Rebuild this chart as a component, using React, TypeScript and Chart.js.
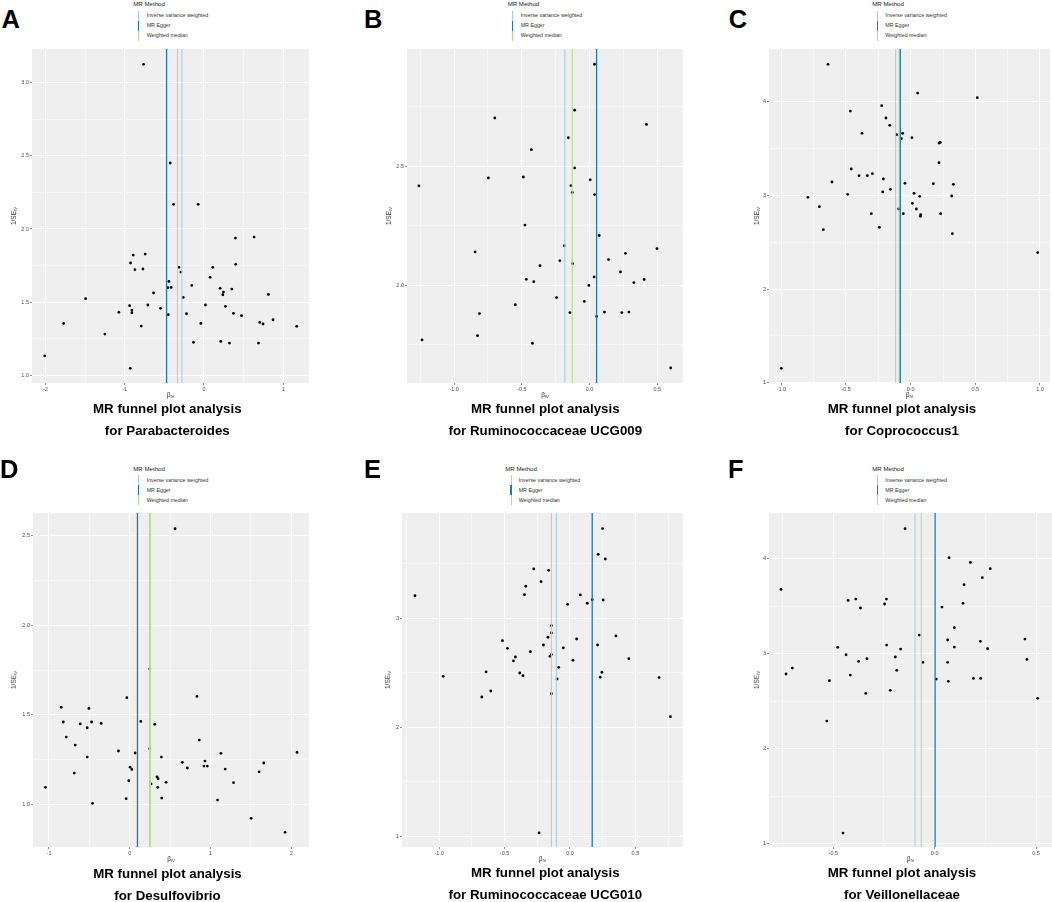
import React, { useEffect, useRef } from "react";
import { Chart, registerables } from "chart.js";

Chart.register(...registerables);

// ---------- legend ----------
const methodNames = ["Inverse variance weighted", "MR Egger", "Weighted median"];
const methodColors = ["#a6cee3", "#1f78b4", "#b2df8a"];

// ---------- Panel A: Parabacteroides ----------
const betaA = [-0.762, -0.426, -0.384, -0.074, 0.396, 0.631, 0.4, 0.111, -0.317, -0.292, 0.077, -0.443, -0.456, -0.414, -0.154, 0.203, 0.35, 0.245, 0.237, 0.812, -0.263, -0.636, -0.741, -0.892, -0.926, -0.871, -0.77, -1.492, -0.938, -0.708, -0.909, -0.909, -1.073, -0.548, -0.451, 0.018, -0.221, 0.27, 0.371, 0.472, -0.04, -0.791, -1.769, -1.249, 0.702, 0.744, 0.87, 1.168, -0.133, 0.211, 0.321, 0.686, -2.008, -0.93];
const seInvA = [3.125, 2.451, 2.169, 2.169, 1.938, 1.945, 1.759, 1.738, 1.738, 1.706, 1.67, 1.642, 1.599, 1.601, 1.615, 1.595, 1.59, 1.569, 1.551, 1.553, 1.533, 1.563, 1.829, 1.822, 1.768, 1.722, 1.727, 1.524, 1.476, 1.481, 1.446, 1.428, 1.431, 1.458, 1.415, 1.481, 1.421, 1.472, 1.424, 1.408, 1.355, 1.337, 1.355, 1.282, 1.362, 1.351, 1.38, 1.335, 1.226, 1.232, 1.221, 1.221, 1.134, 1.048];
const estA = [-0.279, -0.472, -0.334];
const xTicksA = [-2, -1, 0, 1];
const xLabelsA = ["-2", "-1", "0", "1"];
const xMinorA = [-1.5, -0.5, 0.5];
const yTicksA = [1.0, 1.5, 2.0, 2.5, 3.0];
const yLabelsA = ["1.0", "1.5", "2.0", "2.5", "3.0"];
const yMinorA = [1.25, 1.75, 2.25, 2.75];

// ---------- Panel B: Ruminococcaceae UCG009 ----------
const betaB = [0.037, -0.11, -0.7, 0.42, -0.157, -0.43, -0.11, -0.489, -0.747, 0.005, -1.26, -0.137, -0.128, 0.037, -0.477, 0.071, -0.187, 0.498, -0.845, 0.265, 0.14, -0.219, -0.125, -0.366, 0.228, 0.034, 0.403, -0.467, -0.412, 0.327, -0.005, -0.243, -0.039, -0.548, -0.813, -0.145, 0.11, 0.238, 0.29, 0.052, -0.827, -1.237, -0.422, 0.599];
const seInvB = [2.929, 2.736, 2.703, 2.676, 2.62, 2.57, 2.493, 2.455, 2.451, 2.443, 2.418, 2.419, 2.39, 2.381, 2.253, 2.209, 2.166, 2.154, 2.14, 2.134, 2.108, 2.103, 2.091, 2.082, 2.056, 2.035, 2.024, 2.025, 2.015, 2.011, 1.999, 1.948, 1.932, 1.918, 1.881, 1.885, 1.887, 1.885, 1.887, 1.869, 1.788, 1.77, 1.756, 1.652];
const estB = [-0.182, 0.052, -0.128];
const xTicksB = [-1.0, -0.5, 0.0, 0.5];
const xLabelsB = ["-1.0", "-0.5", "0.0", "0.5"];
const xMinorB = [-1.25, -0.75, -0.25, 0.25];
const yTicksB = [2.0, 2.5];
const yLabelsB = ["2.0", "2.5"];
const yMinorB = [1.75, 2.25, 2.75];

// ---------- Panel C: Coprococcus1 ----------
const betaC = [-0.639, 0.054, 0.515, -0.224, -0.466, -0.191, -0.162, -0.376, -0.108, -0.062, -0.072, 0.01, 0.229, 0.219, 0.219, -0.459, -0.399, -0.335, -0.296, -0.211, -0.608, -0.044, 0.175, 0.33, -0.157, -0.216, -0.487, 0.026, -0.794, 0.07, 0.317, 0.013, -0.706, -0.093, 0.044, -0.304, -0.057, 0.232, 0.077, 0.075, -0.242, -0.675, 0.322, 0.982, -1.0];
const seInvC = [4.397, 4.091, 4.042, 3.956, 3.899, 3.825, 3.747, 3.661, 3.647, 3.661, 3.604, 3.615, 3.565, 3.558, 3.348, 3.281, 3.21, 3.21, 3.231, 3.174, 3.142, 3.128, 3.124, 3.117, 3.064, 3.036, 3.011, 3.021, 2.979, 2.989, 2.993, 2.915, 2.879, 2.854, 2.854, 2.804, 2.804, 2.804, 2.794, 2.776, 2.659, 2.634, 2.591, 2.389, 1.155];
const estC = [-0.116, -0.08, -0.09];
const xTicksC = [-1.0, -0.5, 0.0, 0.5, 1.0];
const xLabelsC = ["-1.0", "-0.5", "0.0", "0.5", "1.0"];
const xMinorC = [-0.75, -0.25, 0.25, 0.75];
const yTicksC = [1, 2, 3, 4];
const yLabelsC = ["1", "2", "3", "4"];
const yMinorC = [1.5, 2.5, 3.5];

// ---------- Panel D: Desulfovibrio ----------
const betaD = [0.56, 0.247, 0.831, -0.037, -0.848, -0.506, 0.136, -0.823, -0.473, -0.613, -0.354, 0.309, -0.527, -0.786, 0.86, -0.675, 0.247, -0.14, 1.128, 2.07, 0.066, -0.527, 0.391, 0.65, 0.93, 1.658, 0.004, 0.918, 0.959, 0.025, 0.712, 1.181, -0.687, 1.601, 0.337, 0.35, -0.012, 0.449, 1.284, 0.263, -1.045, 0.346, -0.045, 0.395, 1.086, -0.461, 1.502, 1.922];
const seInvD = [2.539, 1.757, 1.603, 1.596, 1.542, 1.536, 1.463, 1.46, 1.46, 1.449, 1.452, 1.447, 1.428, 1.376, 1.359, 1.331, 1.311, 1.298, 1.285, 1.29, 1.287, 1.264, 1.264, 1.235, 1.242, 1.231, 1.208, 1.214, 1.214, 1.195, 1.203, 1.197, 1.175, 1.182, 1.154, 1.143, 1.132, 1.123, 1.121, 1.114, 1.095, 1.095, 1.032, 1.035, 1.024, 1.006, 0.922, 0.844];
const estD = [0.245, 0.095, 0.255];
const xTicksD = [-1, 0, 1, 2];
const xLabelsD = ["-1", "0", "1", "2"];
const xMinorD = [-0.5, 0.5, 1.5];
const yTicksD = [1.0, 1.5, 2.0, 2.5];
const yLabelsD = ["1.0", "1.5", "2.0", "2.5"];
const yMinorD = [1.25, 1.75, 2.25];

// ---------- Panel E: Ruminococcaceae UCG010 ----------
const betaE = [0.249, 0.216, 0.27, -0.277, -0.163, -0.221, -0.338, -1.185, -0.348, 0.079, 0.17, 0.254, -0.018, 0.132, -0.142, -0.142, -0.168, 0.351, 0.051, -0.516, -0.203, 0.211, -0.478, -0.051, -0.303, -0.142, -0.153, -0.417, -0.432, 0.023, 0.45, -0.086, -0.641, -0.384, 0.244, -0.969, -0.359, 0.231, 0.681, -0.099, -0.605, -0.142, -0.674, 0.768, -0.236];
const seInvE = [3.823, 3.587, 3.544, 3.453, 3.44, 3.336, 3.294, 3.208, 3.217, 3.214, 3.171, 3.168, 3.128, 3.138, 2.933, 2.865, 2.826, 2.838, 2.81, 2.795, 2.755, 2.755, 2.725, 2.728, 2.694, 2.667, 2.651, 2.645, 2.609, 2.615, 2.63, 2.55, 2.508, 2.498, 2.505, 2.468, 2.474, 2.459, 2.456, 2.443, 2.333, 2.309, 2.278, 2.098, 1.031];
const estE = [-0.104, 0.17, -0.142];
const xTicksE = [-1.0, -0.5, 0.0, 0.5];
const xLabelsE = ["-1.0", "-0.5", "0.0", "0.5"];
const xMinorE = [-1.25, -0.75, -0.25, 0.25, 0.75];
const yTicksE = [1, 2, 3];
const yLabelsE = ["1", "2", "3"];
const yMinorE = [1.5, 2.5, 3.5];

// ---------- Panel F: Veillonellaceae ----------
const betaF = [-0.146, 0.071, 0.176, 0.274, 0.235, 0.145, -0.758, -0.389, -0.238, -0.427, -0.247, 0.14, -0.366, 0.036, 0.097, -0.076, 0.064, 0.445, 0.225, -0.237, -0.478, 0.097, -0.168, 0.261, -0.437, -0.194, -0.334, 0.455, -0.375, -0.058, 0.064, -0.702, -0.187, -0.733, -0.416, 0.008, 0.191, 0.227, -0.519, 0.067, -0.219, -0.34, 0.508, -0.532, -0.452];
const seInvF = [4.316, 4.011, 3.961, 3.895, 3.8, 3.726, 3.677, 3.575, 3.575, 3.561, 3.523, 3.53, 3.481, 3.491, 3.274, 3.196, 3.144, 3.154, 3.13, 3.091, 3.067, 3.07, 3.049, 3.053, 2.989, 2.965, 2.947, 2.94, 2.919, 2.909, 2.909, 2.849, 2.825, 2.786, 2.775, 2.733, 2.74, 2.74, 2.716, 2.709, 2.614, 2.582, 2.53, 2.291, 1.112];
const estF = [-0.097, 0.002, -0.066];
const xTicksF = [-0.5, 0.0, 0.5];
const xLabelsF = ["-0.5", "0.0", "0.5"];
const xMinorF = [-0.75, -0.25, 0.25];
const yTicksF = [1, 2, 3, 4];
const yLabelsF = ["1", "2", "3", "4"];
const yMinorF = [1.5, 2.5, 3.5];

type PanelSpec = {
  letter: string;
  subtitle: string;
  beta: number[];
  seInv: number[];
  est: number[];
  xTicks: number[];
  xLabels: string[];
  xMinor: number[];
  yTicks: number[];
  yLabels: string[];
  yMinor: number[];
  xRange: [number, number];
  yRange: [number, number];
  rect: [number, number, number, number]; // plot area l,t,r,b
  legendX: number;
  keyX: number;
  textX: number;
  legendY: number; // center of "MR Method"
  titleCx: number;
  titleY1: number;
  titleY2: number;
  letterX: number;
  letterY: number;
  yTitleX: number;
};

const panels: PanelSpec[] = [
  {
    letter: "A", subtitle: "for Parabacteroides",
    beta: betaA, seInv: seInvA, est: estA,
    xTicks: xTicksA, xLabels: xLabelsA, xMinor: xMinorA,
    yTicks: yTicksA, yLabels: yLabelsA, yMinor: yMinorA,
    xRange: [-2.168, 1.323], yRange: [0.948, 3.23],
    rect: [32, 49, 309, 383],
    legendX: 133.3, keyX: 138.7, textX: 146.7, legendY: 4.4,
    titleCx: 167.3, titleY1: 408.3, titleY2: 431,
    letterX: 1.5, letterY: 6.6, yTitleX: 15,
  },
  {
    letter: "B", subtitle: "for Ruminococcaceae UCG009",
    beta: betaB, seInv: seInvB, est: estB,
    xTicks: xTicksB, xLabels: xLabelsB, xMinor: xMinorB,
    yTicks: yTicksB, yLabels: yLabelsB, yMinor: yMinorB,
    xRange: [-1.348, 0.69], yRange: [1.589, 2.993],
    rect: [407, 49, 683, 383],
    legendX: 507.7, keyX: 512.7, textX: 520.7, legendY: 4.2,
    titleCx: 545.3, titleY1: 408.3, titleY2: 431,
    letterX: 364, letterY: 6.6, yTitleX: 390,
  },
  {
    letter: "C", subtitle: "for Coprococcus1",
    beta: betaC, seInv: seInvC, est: estC,
    xTicks: xTicksC, xLabels: xLabelsC, xMinor: xMinorC,
    yTicks: yTicksC, yLabels: yLabelsC, yMinor: yMinorC,
    xRange: [-1.095, 1.077], yRange: [0.998, 4.561],
    rect: [769, 49, 1050, 383],
    legendX: 872.3, keyX: 877.7, textX: 885.3, legendY: 4.4,
    titleCx: 902, titleY1: 408.3, titleY2: 431,
    letterX: 728.7, letterY: 6.6, yTitleX: 758,
  },
  {
    letter: "D", subtitle: "for Desulfovibrio",
    beta: betaD, seInv: seInvD, est: estD,
    xTicks: xTicksD, xLabels: xLabelsD, xMinor: xMinorD,
    yTicks: yTicksD, yLabels: yLabelsD, yMinor: yMinorD,
    xRange: [-1.198, 2.218], yRange: [0.762, 2.627],
    rect: [33, 513, 309, 847],
    legendX: 133.3, keyX: 138.7, textX: 146.7, legendY: 469,
    titleCx: 167.5, titleY1: 873.3, titleY2: 895.7,
    letterX: 0, letterY: 456.6, yTitleX: 15,
  },
  {
    letter: "E", subtitle: "for Ruminococcaceae UCG010",
    beta: betaE, seInv: seInvE, est: estE,
    xTicks: xTicksE, xLabels: xLabelsE, xMinor: xMinorE,
    yTicks: yTicksE, yLabels: yLabelsE, yMinor: yMinorE,
    xRange: [-1.284, 0.864], yRange: [0.902, 3.966],
    rect: [402, 513, 683, 847],
    legendX: 505.3, keyX: 511, textX: 518.7, legendY: 469,
    titleCx: 545.3, titleY1: 872.7, titleY2: 895,
    letterX: 364, letterY: 456.6, yTitleX: 389.3,
  },
  {
    letter: "F", subtitle: "for Veillonellaceae",
    beta: betaF, seInv: seInvF, est: estF,
    xTicks: xTicksF, xLabels: xLabelsF, xMinor: xMinorF,
    yTicks: yTicksF, yLabels: yLabelsF, yMinor: yMinorF,
    xRange: [-0.817, 0.5785], yRange: [0.965, 4.481],
    rect: [769, 513, 1052, 847],
    legendX: 872.3, keyX: 877.7, textX: 885.3, legendY: 469,
    titleCx: 902, titleY1: 872.7, titleY2: 895,
    letterX: 728, letterY: 456.6, yTitleX: 758.3,
  },
];

const YW = 30;
const XH = 14;
const PT = 6;
const PR = 8;
const FONT = '"Liberation Sans", Arial, Helvetica, sans-serif';

const bgPlugin = {
  id: "panelBg",
  beforeDraw(chart: any) {
    const { ctx, chartArea: a } = chart;
    if (!a) return;
    ctx.save();
    ctx.fillStyle = "#efefef";
    ctx.fillRect(a.left, a.top, a.right - a.left, a.bottom - a.top);
    ctx.restore();
  },
};

const near = (list: number[], v: number) => list.some((m) => Math.abs(m - v) < 1e-9);

function makeScale(range: [number, number], major: number[], minor: number[], labels: string[], isX: boolean) {
  const all = [...major, ...minor].sort((a, b) => a - b);
  return {
    type: "linear" as const,
    position: isX ? ("bottom" as const) : ("left" as const),
    min: range[0],
    max: range[1],
    afterBuildTicks: (scale: any) => {
      scale.ticks = all.map((v) => ({ value: v }));
    },
    afterFit: (scale: any) => {
      if (isX) scale.height = XH;
      else scale.width = YW;
    },
    ticks: {
      autoSkip: false,
      maxRotation: 0,
      minRotation: 0,
      padding: 1,
      color: "#4d4d4d",
      font: { family: FONT, size: 5.5 },
      callback: (v: any) => {
        const i = major.findIndex((m) => Math.abs(m - Number(v)) < 1e-9);
        return i >= 0 ? labels[i] : "";
      },
    },
    grid: {
      color: "#ffffff",
      lineWidth: (c: any) => (c.tick && near(major, c.tick.value) ? 1.1 : 0.5),
      tickColor: (c: any) => (c.tick && near(major, c.tick.value) ? "#333333" : "rgba(0,0,0,0)"),
      tickLength: 2,
      tickWidth: 0.6,
      drawTicks: true,
    },
    border: { display: false },
  };
}

function Panel({ p }: { p: PanelSpec }) {
  const ref = useRef<HTMLCanvasElement | null>(null);
  const [l, t, r, b] = p.rect;
  const cLeft = l - YW;
  const cTop = t - PT;
  const cW = r - l + YW + PR;
  const cH = b - t + PT + XH;

  useEffect(() => {
    if (!ref.current) return;
    const lineSets = p.est.map((v, i) => ({
      type: "line" as const,
      label: methodNames[i],
      data: [
        { x: v, y: p.yRange[0] },
        { x: v, y: p.yRange[1] },
      ],
      borderColor: methodColors[i],
      borderWidth: i === 1 ? 1.3 : 1.1,
      pointRadius: 0,
      showLine: true,
      fill: false,
      order: i,
    }));
    const pts = {
      type: "scatter" as const,
      label: "SNP",
      data: p.beta.map((x, i) => ({ x, y: p.seInv[i] })),
      backgroundColor: "#000000",
      borderWidth: 0,
      pointRadius: 1.4,
      pointHoverRadius: 1.4,
      order: 10,
    };
    const chart = new Chart(ref.current, {
      type: "scatter",
      data: { datasets: [...lineSets, pts] as any },
      options: {
        responsive: false,
        animation: false,
        events: [],
        layout: { padding: { top: PT, right: PR, left: 0, bottom: 0 } },
        plugins: { legend: { display: false }, tooltip: { enabled: false }, title: { display: false } },
        scales: {
          x: makeScale(p.xRange, p.xTicks, p.xMinor, p.xLabels, true) as any,
          y: makeScale(p.yRange, p.yTicks, p.yMinor, p.yLabels, false) as any,
        },
      },
      plugins: [bgPlugin],
    });
    return () => chart.destroy();
  }, [p]);

  const cx = (l + r) / 2;
  const cy = (t + b) / 2;
  const abs = (x: number, y: number, extra: React.CSSProperties = {}): React.CSSProperties => ({
    position: "absolute",
    left: x,
    top: y,
    whiteSpace: "nowrap",
    ...extra,
  });
  const itemFs = 5.3;
  const headFs = 6.1;
  const titleFs = 13.3;
  const letterFs = 25.5;

  return (
    <>
      <canvas
        ref={ref}
        width={cW}
        height={cH}
        style={{ position: "absolute", left: cLeft, top: cTop, width: cW, height: cH }}
      />
      {/* panel letter */}
      <div style={abs(p.letterX, p.letterY, { fontSize: letterFs, lineHeight: `${letterFs}px`, fontWeight: 700, color: "#000" })}>
        {p.letter}
      </div>
      {/* legend */}
      <div style={abs(p.legendX, p.legendY - 0.49 * headFs, { fontSize: headFs, lineHeight: `${headFs}px`, color: "#222" })}>
        MR Method
      </div>
      {methodNames.map((m, i) => {
        const yc = p.legendY + 11.3 + i * 10;
        return (
          <React.Fragment key={m}>
            <div
              style={{
                position: "absolute",
                left: p.keyX - (i === 1 ? 0.65 : 0.5),
                top: yc - 5,
                width: i === 1 ? 1.3 : 1,
                height: 10,
                background: methodColors[i],
              }}
            />
            <div style={abs(p.textX, yc - 0.49 * itemFs, { fontSize: itemFs, lineHeight: `${itemFs}px`, color: "#333" })}>
              {m}
            </div>
          </React.Fragment>
        );
      })}
      {/* axis titles */}
      <div
        style={abs(cx, b + 13.4, {
          transform: "translate(-50%, -50%)",
          fontSize: 6.5,
          lineHeight: "8px",
          color: "#333",
        })}
      >
        β<sub style={{ fontSize: "65%", verticalAlign: "-0.3em" }}>IV</sub>
      </div>
      <div
        style={abs(p.yTitleX, cy, {
          transform: "translate(-50%, -50%) rotate(-90deg)",
          fontSize: 6.5,
          lineHeight: "8px",
          color: "#333",
        })}
      >
        1/SE<sub style={{ fontSize: "65%", verticalAlign: "-0.3em" }}>IV</sub>
      </div>
      {/* titles */}
      <div
        style={abs(p.titleCx - 160, p.titleY1 - 0.49 * titleFs, {
          width: 320,
          textAlign: "center",
          fontSize: titleFs,
          lineHeight: `${titleFs}px`,
          fontWeight: 700,
          color: "#000",
        })}
      >
        MR funnel plot analysis
      </div>
      <div
        style={abs(p.titleCx - 160, p.titleY2 - 0.49 * titleFs, {
          width: 320,
          textAlign: "center",
          fontSize: titleFs,
          lineHeight: `${titleFs}px`,
          fontWeight: 700,
          color: "#000",
        })}
      >
        {p.subtitle}
      </div>
    </>
  );
}

export default function App() {
  return (
    <div
      style={{
        position: "absolute",
        left: 0,
        top: 0,
        width: 1052,
        height: 902,
        overflow: "hidden",
        background: "#ffffff",
        fontFamily: FONT,
      }}
    >
      {panels.map((p) => (
        <Panel key={p.letter} p={p} />
      ))}
    </div>
  );
}
